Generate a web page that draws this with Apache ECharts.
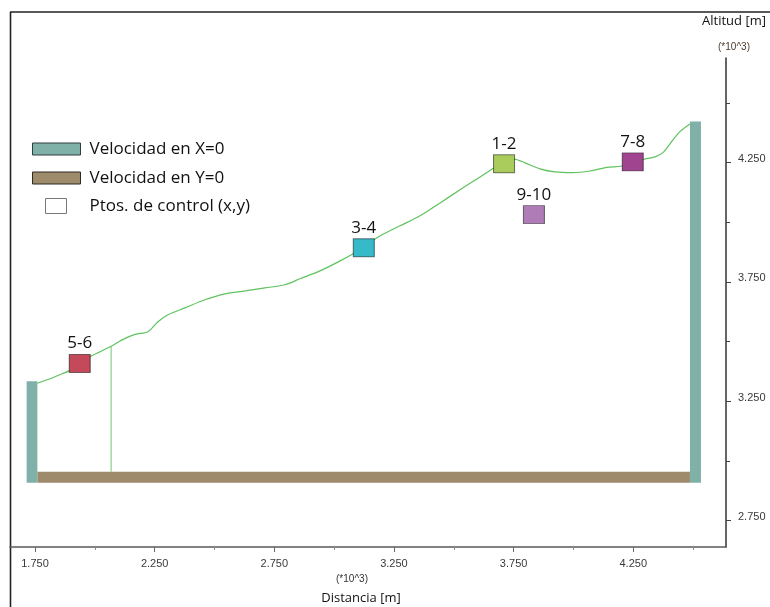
<!DOCTYPE html>
<html>
<head>
<meta charset="utf-8">
<script src="https://cdn.jsdelivr.net/npm/echarts@6/dist/echarts.min.js"></script>
<style>
html,body{margin:0;padding:0;background:#fff;}
#chart{width:770px;height:607px;}
</style>
</head>
<body>
<div id="chart"></div>
<script>
// ---- data (metres) ----
const profileX = [1760,1813,1863,1892,1980,2022,2068,2114,2168,2222,2264,2306,2377,2460,2544,2628,2711,2795,2857,2941,3025,3087,3125,3192,3275,3359,3443,3526,3610,3681,3710,3752,3798,3860,3923,3998,4069,4140,4203,4291,4341,4374,4416,4445,4487];
const profileY = [3325,3344,3365,3377,3436,3457,3480,3507,3530,3541,3583,3612,3641,3675,3700,3712,3725,3738,3763,3796,3838,3872,3897,3943,3985,4027,4081,4136,4190,4236,4249,4265,4249,4224,4211,4208,4215,4230,4236,4263,4274,4292,4345,4380,4412];
const guideX = [2068, 2068];
const guideY = [2954, 3480];
// velocity X=0 bars: [x0, x1, yBottom, yTop]
const velXBars = [[1715, 1760, 2908, 3333], [4487, 4533, 2908, 4422]];
// velocity Y=0 bar: [x0, x1, yBottom, yTop]
const velYBars = [[1760, 4487, 2908, 2954]];
const ctrlNames = ['5-6', '3-4', '1-2', '7-8', '9-10'];
const ctrlX = [1937, 3124, 3710, 4248, 3835];
const ctrlY = [3408, 3893, 4245, 4253, 4032];
const ctrlColors = ['#c4495b', '#36b9c9', '#a9cc5d', '#a1448f', '#b07cb8'];
const xLabelTicks = [1750, 2250, 2750, 3250, 3750, 4250];
const xMinorTicks = [2000, 2500, 3000, 3500, 4000, 4500];
const yLabelTicks = [2750, 3250, 3750, 4250];
const yMinorTicks = [3000, 3500, 4000, 4500];

const X_MIN = 1645.5, X_MAX = 4637.6, Y_MIN = 2638.6, Y_MAX = 4688.6;
const fmt = v => (v / 1000).toFixed(3);

const chart = echarts.init(document.getElementById('chart'), null, {renderer: 'canvas'});

function rectItem(params, api) {
  const p0 = api.coord([api.value(0), api.value(3)]);
  const p1 = api.coord([api.value(1), api.value(2)]);
  return {
    type: 'rect',
    shape: {x: p0[0], y: p0[1], width: p1[0] - p0[0], height: p1[1] - p0[1]},
    style: api.style()
  };
}

const tickFont = {fontFamily: 'Liberation Sans', fontSize: 11, color: '#3a3a3a'};

const option = {
  backgroundColor: '#ffffff',
  animation: false,
  grid: {left: 10, right: 44, top: 58, bottom: 60, containLabel: false, outerBoundsMode: 'none'},
  xAxis: [{
    type: 'value', min: X_MIN, max: X_MAX, position: 'bottom',
    splitLine: {show: false},
    axisLine: {show: true, lineStyle: {color: '#5a5a5a', width: 1.5}},
    axisTick: {show: true, length: 5, customValues: xLabelTicks, lineStyle: {color: '#666', width: 1}},
    axisLabel: Object.assign({show: true, customValues: xLabelTicks, formatter: fmt, margin: 11}, tickFont),
    name: '{b|(*10^3)}\n{a|Distancia [m]}',
    nameLocation: 'middle', nameGap: 25, nameMoveOverlap: false,
    nameTextStyle: {
      padding: [0, 14, 0, 0],
      rich: {
        a: {fontFamily: 'Open Sans', fontSize: 13, color: '#111', lineHeight: 24},
        b: {fontFamily: 'Liberation Sans', fontSize: 10, color: '#333', lineHeight: 14, padding: [0, 18, 0, 0]}
      }
    }
  }, {
    type: 'value', min: X_MIN, max: X_MAX, position: 'bottom',
    splitLine: {show: false},
    axisLine: {show: false},
    axisTick: {show: true, length: 3, customValues: xMinorTicks, lineStyle: {color: '#888', width: 1}},
    axisLabel: {show: false}
  }],
  yAxis: [{
    type: 'value', min: Y_MIN, max: Y_MAX, position: 'right',
    splitLine: {show: false},
    axisLine: {show: true, lineStyle: {color: '#333', width: 1.5}},
    axisTick: {show: true, length: 5, customValues: yLabelTicks, lineStyle: {color: '#444', width: 1}},
    axisLabel: Object.assign({show: true, customValues: yLabelTicks, formatter: fmt, margin: 12, verticalAlign: 'bottom', padding: [0, 0, -2, 0]}, tickFont),
    name: '{a|Altitud [m]}\n{b|(*10^3)}',
    nameLocation: 'end', nameGap: -5, nameMoveOverlap: false,
    nameTextStyle: {
      align: 'center', verticalAlign: 'bottom',
      padding: [0, 0, 0, 16],
      rich: {
        a: {fontFamily: 'Open Sans', fontSize: 13, color: '#111', lineHeight: 20},
        b: {fontFamily: 'Liberation Sans', fontSize: 10, color: '#4a3a2a', lineHeight: 32}
      }
    }
  }, {
    type: 'value', min: Y_MIN, max: Y_MAX, position: 'right',
    splitLine: {show: false},
    axisLine: {show: false},
    axisTick: {show: true, length: 4, customValues: yMinorTicks, lineStyle: {color: '#444', width: 1}},
    axisLabel: {show: false}
  }],
  legend: [{
    orient: 'vertical', left: 32, top: 140, padding: 0, itemWidth: 48, itemHeight: 12, itemGap: 11,
    selectedMode: false, icon: 'rect',
    textStyle: {fontFamily: 'Open Sans', fontSize: 17, color: '#111', lineHeight: 18, padding: [0, 0, 0, 4]},
    data: [
      {name: 'Velocidad en X=0', itemStyle: {color: '#80b1a9', borderColor: '#2f3f3c', borderWidth: 1}},
      {name: 'Velocidad en Y=0', itemStyle: {color: '#9d8b6b', borderColor: '#2f2a22', borderWidth: 1}}
    ]
  }, {
    orient: 'vertical', left: 45, top: 197, padding: 0, itemWidth: 21, itemHeight: 15,
    selectedMode: false, icon: 'rect',
    textStyle: {fontFamily: 'Open Sans', fontSize: 17, color: '#111', lineHeight: 18, padding: [0, 0, 0, 18]},
    data: [
      {name: 'Ptos. de control (x,y)', itemStyle: {color: '#ffffff', borderColor: '#777', borderWidth: 1}}
    ]
  }],
  graphic: [
    {type: 'line', silent: true, shape: {x1: 10, y1: 12, x2: 770, y2: 12}, style: {stroke: '#222', lineWidth: 1.6}},
    {type: 'line', silent: true, shape: {x1: 10.5, y1: 12, x2: 10.5, y2: 607}, style: {stroke: '#222', lineWidth: 1.6}}
  ],
  series: [
    {
      name: 'Velocidad en X=0', type: 'custom', renderItem: rectItem, z: 2,
      encode: {x: [0, 1], y: [2, 3]},
      itemStyle: {color: '#80b1a9'},
      data: velXBars
    },
    {
      name: 'Velocidad en Y=0', type: 'custom', renderItem: rectItem, z: 2,
      encode: {x: [0, 1], y: [2, 3]},
      itemStyle: {color: '#9d8b6b'},
      data: velYBars
    },
    {
      name: 'Perfil', type: 'line', symbol: 'none', smooth: 0.3, z: 3,
      lineStyle: {color: '#5fc25f', width: 1.2},
      data: profileX.map((x, i) => [x, profileY[i]])
    },
    {
      name: 'Guía', type: 'line', symbol: 'none', z: 3,
      lineStyle: {color: '#72c672', width: 1},
      data: guideX.map((x, i) => [x, guideY[i]])
    },
    {
      name: 'Ptos. de control (x,y)', type: 'scatter', symbol: 'rect', symbolSize: [21, 18], z: 5,
      itemStyle: {color: '#ffffff', borderColor: 'rgba(0,0,0,0.5)', borderWidth: 1, opacity: 1},
      label: {show: true, position: 'top', distance: 2, formatter: p => p.name,
        fontFamily: 'Open Sans', fontSize: 17, color: '#111'},
      data: ctrlNames.map((n, i) => ({
        name: n, value: [ctrlX[i], ctrlY[i]],
        itemStyle: {color: ctrlColors[i], borderColor: 'rgba(0,0,0,0.5)', borderWidth: 1, opacity: 1}
      }))
    }
  ]
};
chart.setOption(option);
</script>
</body>
</html>
